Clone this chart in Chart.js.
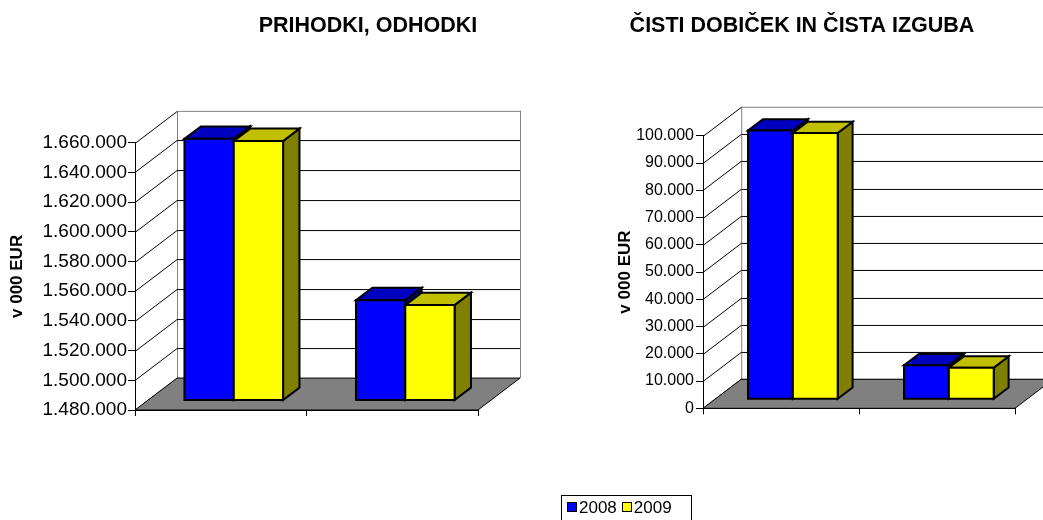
<!DOCTYPE html>
<html>
<head>
<meta charset="utf-8">
<script src="https://cdn.jsdelivr.net/npm/chart.js@4.4.1/dist/chart.umd.min.js"></script>
<style>
  html, body { margin: 0; padding: 0; background: #fff; width: 1043px; height: 520px; overflow: hidden; }
  #wrap { position: relative; width: 1043px; height: 520px; }
  canvas { position: absolute; top: 0; }
  #c1 { left: 0; }
  #c2 { left: 561px; }
  #legend { position: absolute; left: 561px; top: 495px; width: 131px; height: 32px; border: 1px solid #000;
            box-sizing: border-box; font: 17px "Liberation Sans", Arial, sans-serif; color: #000;
            display: flex; align-items: flex-start; padding: 3px 0 0 5px; }
  #legend .item { display: flex; align-items: center; margin-right: 5px; line-height: 17px; }
  #legend .sw { width: 8px; height: 8px; border: 1px solid #000; margin-right: 2px; margin-top: -1px; }
</style>
</head>
<body>
<div id="wrap">
  <canvas id="c1" width="736" height="520"></canvas>
  <canvas id="c2" width="482" height="520"></canvas>
  <div id="legend"></div>
</div>
<script>
// ---------- data ----------
const seriesNames = ['2008', '2009'];
const leftTitle = 'PRIHODKI, ODHODKI';
const rightTitle = 'ČISTI DOBIČEK IN ČISTA IZGUBA';
const axisTitle = 'v 000 EUR';
const leftCategories = ['Prihodki', 'Odhodki'];
const left2008 = [1656000, 1547300];
const left2009 = [1654500, 1544000];
const rightCategories = ['Čisti dobiček', 'Čista izguba'];
const right2008 = [98600, 12500];
const right2009 = [97700, 11600];
const leftTickMin = 1480000, leftTickMax = 1660000, leftTickStep = 20000;
const rightTickMin = 0, rightTickMax = 100000, rightTickStep = 10000;

// ---------- styles ----------
const frontColors = ['#0000FF', '#FFFF00'];
const topColors = ['#0000C0', '#C0C000'];
const sideColors = ['#000080', '#808000'];
const FONT = '"Liberation Sans", Arial, sans-serif';

function fmt(v) {
  return String(Math.round(v)).replace(/\B(?=(\d{3})+(?!\d))/g, '.');
}

// 3D walls, floor and bars drawn from the chart's own scales and bar elements
const box3d = {
  id: 'box3d',
  beforeDatasetsDraw(chart, args, o) {
    const ctx = chart.ctx, ca = chart.chartArea, ys = chart.scales.y;
    const L = ca.left, R = ca.right, T = ca.top, B = ca.bottom;
    const dx = (R - L) * o.depth, dy = dx * o.slope;
    const ox = dx * o.barOffset, oy = dy * o.barOffset;
    const bdx = dx * o.barDepth, bdy = dy * o.barDepth;
    const ln = (x1, y1, x2, y2) => { ctx.beginPath(); ctx.moveTo(x1, y1); ctx.lineTo(x2, y2); ctx.stroke(); };
    ctx.save();
    ctx.lineWidth = 1;
    // back wall frame
    ctx.strokeStyle = '#808080';
    ln(L + dx + 0.5, T - dy, L + dx + 0.5, B - dy);
    ln(R + dx + 0.5, T - dy, R + dx + 0.5, B - dy);
    ln(L + dx, T - dy + 0.5, R + dx, T - dy + 0.5);
    // gridlines on back wall and side wall
    ctx.strokeStyle = '#000';
    ys.ticks.forEach(t => {
      const py = Math.round(ys.getPixelForValue(t.value));
      if (t.value !== ys.max) ln(L + dx, py - dy + 0.5, R + dx, py - dy + 0.5);
      ln(L, py + 0.5, L + dx, py - dy + 0.5);
    });
    // floor
    ctx.beginPath();
    ctx.moveTo(L, B); ctx.lineTo(R, B); ctx.lineTo(R + dx, B - dy); ctx.lineTo(L + dx, B - dy); ctx.closePath();
    ctx.fillStyle = '#808080'; ctx.fill();
    ctx.strokeStyle = '#000'; ctx.stroke();
    // bars
    ctx.lineWidth = 2; ctx.lineJoin = 'miter'; ctx.strokeStyle = '#000';
    const basePx = ys.getPixelForValue(ys.min);
    const n = chart.data.labels.length;
    for (let c = 0; c < n; c++) {
      chart.data.datasets.forEach((ds, i) => {
        const el = chart.getDatasetMeta(i).data[c];
        const x0 = el.x - el.width / 2 + ox, x1 = el.x + el.width / 2 + ox;
        const yt = el.y - oy, yb = Math.min(el.base, basePx) - oy;
        // side
        ctx.beginPath();
        ctx.moveTo(x1, yt); ctx.lineTo(x1 + bdx, yt - bdy); ctx.lineTo(x1 + bdx, yb - bdy); ctx.lineTo(x1, yb); ctx.closePath();
        ctx.fillStyle = sideColors[i]; ctx.fill(); ctx.stroke();
        // top
        ctx.beginPath();
        ctx.moveTo(x0, yt); ctx.lineTo(x1, yt); ctx.lineTo(x1 + bdx, yt - bdy); ctx.lineTo(x0 + bdx, yt - bdy); ctx.closePath();
        ctx.fillStyle = topColors[i]; ctx.fill(); ctx.stroke();
        // front
        ctx.beginPath();
        ctx.rect(x0, yt, x1 - x0, yb - yt);
        ctx.fillStyle = frontColors[i]; ctx.fill(); ctx.stroke();
      });
    }
    ctx.restore();
    return false;
  }
};

function makeChart(id, title, cats, v1, v2, tmin, tmax, tstep, g) {
  return new Chart(document.getElementById(id), {
    type: 'bar',
    data: {
      labels: cats,
      datasets: [
        { label: seriesNames[0], data: v1, backgroundColor: frontColors[0], yAxisID: 'y' },
        { label: seriesNames[1], data: v2, backgroundColor: frontColors[1], yAxisID: 'y' }
      ]
    },
    plugins: [box3d],
    options: {
      responsive: false,
      animation: false,
      events: [],
      datasets: { bar: { categoryPercentage: 0.575, barPercentage: 1 } },
      layout: { padding: 0 },
      plugins: {
        legend: { display: false },
        tooltip: { enabled: false },
        title: {
          display: true, text: title, color: '#000',
          font: { family: FONT, size: 21.5, weight: 'bold' },
          padding: { top: 13, bottom: g.titleBottom }
        },
        box3d: { depth: 0.1225, slope: 0.76, barOffset: 0.31, barDepth: 0.39 }
      },
      scales: {
        x: {
          ticks: { display: false },
          grid: { display: true, offset: true, drawOnChartArea: false, drawTicks: true, tickLength: 6, color: '#000', tickColor: '#000' },
          border: { display: true, color: '#000' },
          afterFit(s) { s.height = g.xHeight; }
        },
        y: {
          min: tmin, max: tmax,
          ticks: { stepSize: tstep, autoSkip: false, color: '#000', padding: g.tickPad,
                   font: { family: FONT, size: g.tickFont }, callback: v => fmt(v) },
          grid: { drawOnChartArea: false, drawTicks: true, tickLength: 7, color: '#000', tickColor: '#000' },
          border: { display: true, color: '#000' },
          title: { display: true, text: axisTitle, color: '#000',
                   font: { family: FONT, size: 17, weight: 'bold' }, padding: { top: g.axTitlePad, bottom: 0 } },
          afterFit(s) { s.width = g.yWidth; }
        },
        ySpace: {
          position: 'right', display: true,
          ticks: { display: false }, grid: { display: false }, border: { display: false },
          afterFit(s) { s.width = g.rightSpace; }
        }
      }
    }
  });
}

makeChart('c1', leftTitle, leftCategories, left2008, left2009, leftTickMin, leftTickMax, leftTickStep,
  { rightSpace: 258, titleBottom: 104, xHeight: 110, tickFont: 19, tickPad: 1, axTitlePad: 7, yWidth: 135 });
makeChart('c2', rightTitle, rightCategories, right2008, right2009, rightTickMin, rightTickMax, rightTickStep,
  { rightSpace: 28, titleBottom: 97, xHeight: 111.7, tickFont: 16, tickPad: 2, axTitlePad: 54, yWidth: 142 });

// legend
const lg = document.getElementById('legend');
seriesNames.forEach((name, i) => {
  const it = document.createElement('span'); it.className = 'item';
  const sw = document.createElement('span'); sw.className = 'sw'; sw.style.background = frontColors[i];
  it.appendChild(sw); it.appendChild(document.createTextNode(name));
  lg.appendChild(it);
});
</script>
</body>
</html>
